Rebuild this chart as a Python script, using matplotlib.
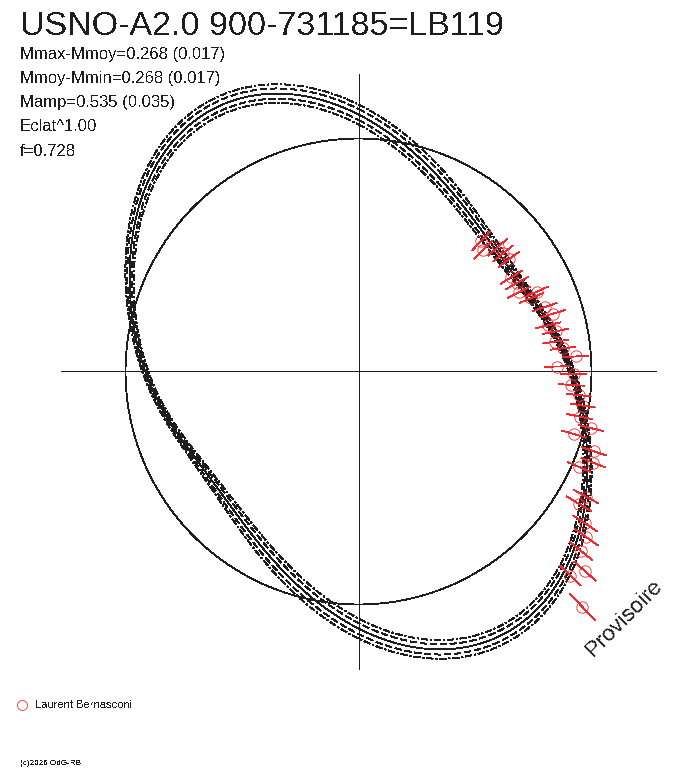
import numpy as np
import matplotlib.pyplot as plt
from matplotlib.collections import LineCollection

plt.rcParams['font.family'] = ['Liberation Sans', 'DejaVu Sans']
plt.rcParams['text.antialiased'] = False
plt.rcParams['lines.scale_dashes'] = False

title = "USNO-A2.0 900-731185=LB119"
stats = ["Mmax-Mmoy=0.268 (0.017)", "Mmoy-Mmin=0.268 (0.017)",
         "Mamp=0.535 (0.035)", "Eclat^1.00", "f=0.728"]
observer = "Laurent Bernasconi"
credit = "(c)2026 OdG-RB"
stamp = "Provisoire"

# observations : phase (0 at top, clockwise) and radius relative to the mean circle
phase = [0.120, 0.127, 0.134, 0.141, 0.148, 0.162, 0.169, 0.177, 0.183, 0.186,
         0.197, 0.204, 0.212, 0.218, 0.226, 0.232, 0.239, 0.246, 0.252, 0.260,
         0.267, 0.274, 0.282, 0.288, 0.295, 0.302, 0.309, 0.315, 0.330, 0.336,
         0.344, 0.350, 0.358, 0.365, 0.372, 0.379]
radius = [0.768, 0.747, 0.801, 0.801, 0.804, 0.770, 0.780, 0.768, 0.838, 0.806,
          0.846, 0.870, 0.838, 0.863, 0.855, 0.883, 0.934, 0.853, 0.924, 0.915,
          0.951, 0.975, 0.968, 1.025, 0.962, 1.067, 1.080, 1.031, 1.114, 1.103,
          1.171, 1.208, 1.226, 1.296, 1.263, 1.394]
err = [0.055] * 28 + [0.062] * 7 + [0.08]

# fourier fit of the light curve (radius vs phase)
fit_mean = 1.012
fit_order = [2, 4, 6]
fit_cos = [0.1007, -0.0030, -0.0067]
fit_sin = [-0.2217, -0.0294, 0.0]

# half width of the uncertainty envelope
band_mean = 0.0279
band_order = [2]
band_cos = [0.0148]
band_sin = [-0.0026]

axis_half = 1.275
scale = 233.0              # pixels per unit radius
cx, cy = 358.5, 371.5      # centre of the diagram, pixels from top left
W, H = 688, 768
ink = '#1e1e1e'
red = '#ec2a30'
lw = 0.6


def series(ph, mean, orders, cs, ss):
    out = np.full_like(ph, mean, dtype=float)
    for n, c, s in zip(orders, cs, ss):
        out += c * np.cos(2 * np.pi * n * ph) + s * np.sin(2 * np.pi * n * ph)
    return out


def to_xy(ph, r):
    th = np.radians(90 - 360 * np.asarray(ph))
    return r * np.cos(th), r * np.sin(th)


fig = plt.figure(figsize=(W / 100, H / 100), dpi=100)
ax = fig.add_axes([0, 0, 1, 1])
ax.set_xlim(-cx / scale, (W - cx) / scale)
ax.set_ylim(-(H - cy) / scale, cy / scale)
ax.axis('off')

# axes cross and mean circle
ax.plot([-axis_half, axis_half], [0, 0], color=ink, lw=lw, antialiased=False)
ax.plot([0, 0], [-axis_half, axis_half], color=ink, lw=lw, antialiased=False)
t = np.linspace(0, 1, 721)
ax.plot(*to_xy(t, np.ones_like(t)), color=ink, lw=lw, antialiased=False)

# fitted curve and envelopes
r_fit = series(t, fit_mean, fit_order, fit_cos, fit_sin)
w = series(t, band_mean, band_order, band_cos, band_sin)
ax.plot(*to_xy(t, r_fit), color=ink, lw=lw, antialiased=False)
for sgn in (1, -1):
    ax.plot(*to_xy(t, r_fit + sgn * 0.55 * w), color=ink, lw=lw,
            ls=(0, (5, 2.5)), antialiased=False)
    ax.plot(*to_xy(t, r_fit + sgn * w), color=ink, lw=lw,
            ls=(0, (5, 2, 1, 2)), antialiased=False)

# observations with radial error bars
ph = np.array(phase)
r = np.array(radius)
e = np.array(err)
x0, y0 = to_xy(ph, r - e)
x1, y1 = to_xy(ph, r + e)
segs = [[(a, b), (c, d)] for a, b, c, d in zip(x0, y0, x1, y1)]
ax.add_collection(LineCollection(segs, colors=red, linewidths=lw, antialiased=False))
ax.plot(*to_xy(ph, r), 'o', ms=8.2, mfc='none', mec=red, mew=lw, antialiased=False)

# texts
fig.text(20 / W, 1 - 35 / H, title, fontsize=24.5, color=ink, va='baseline')
for i, s in enumerate(stats):
    fig.text(20 / W, 1 - (58.5 + 24.3 * i) / H, s, fontsize=12, color=ink, va='baseline')
fig.text(624 / W, 1 - 618 / H, stamp, fontsize=16, color=ink, rotation=45,
         ha='center', va='center')
fig.lines.append(plt.Line2D([22 / W], [1 - 704.5 / H], marker='o', ms=7.2, mfc='none',
                            mec=red, mew=lw, transform=fig.transFigure,
                            antialiased=False))
fig.text(35 / W, 1 - 708.5 / H, observer, fontsize=8, color=ink, va='baseline')
fig.text(20 / W, 1 - 765 / H, credit, fontsize=5.9, color=ink, va='baseline')

fig.savefig('out.png', dpi=100)
